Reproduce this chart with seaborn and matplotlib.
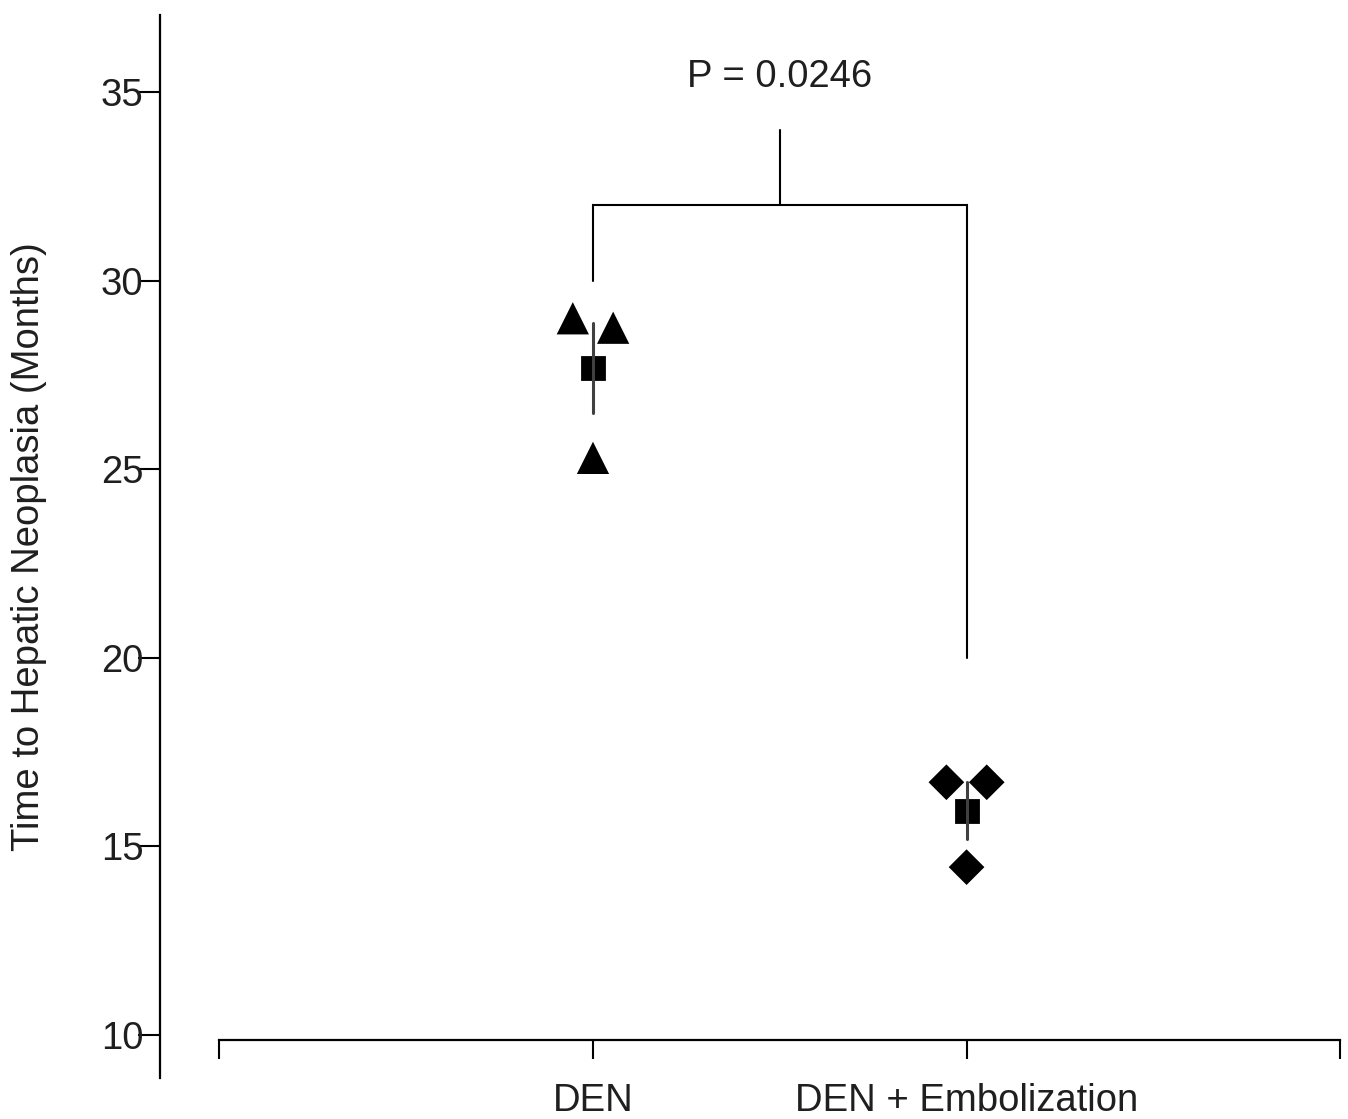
import numpy as np
import pandas as pd
import seaborn as sns
import matplotlib.pyplot as plt

# Values (months)
groups = ['DEN', 'DEN + Embolization']
den_values = [29.0, 28.75, 25.3]
emb_values = [16.7, 16.7, 14.45]
y_ticks = [10, 15, 20, 25, 30, 35]
p_text = 'P = 0.0246'
# bracket: left foot, bar height, right foot, stem top
bracket_left, bracket_bar, bracket_right, bracket_top = 30, 32, 20, 34

# small horizontal spread of the points within a group (layout only)
spread = [-0.054, 0.054, 0.0]

sns.set_style('white')
plt.rcParams['font.family'] = ['Liberation Sans', 'DejaVu Sans']
plt.rcParams['text.color'] = '0.12'
plt.rcParams['xtick.color'] = '0.12'
plt.rcParams['ytick.color'] = '0.12'
plt.rcParams['axes.labelcolor'] = '0.12'

rows = []
for gi, vals in enumerate([den_values, emb_values]):
    for j, v in enumerate(vals):
        rows.append({'group': groups[gi], 'pos': gi, 'xpos': gi + spread[j], 'value': v})
df = pd.DataFrame(rows)

fig = plt.figure(figsize=(13.48, 11.19), dpi=100)
ax = fig.add_axes([160 / 1348, 41 / 1119, 1185 / 1348, 1063 / 1119])

# individual animals
sns.scatterplot(data=df[df['pos'] == 0], x='xpos', y='value', marker='^', s=540,
                color='black', edgecolor='none', ax=ax, zorder=3)
sns.scatterplot(data=df[df['pos'] == 1], x='xpos', y='value', marker='D', s=330,
                color='black', edgecolor='none', ax=ax, zorder=3)

# mean +/- SEM
sns.pointplot(data=df, x='pos', y='value', native_scale=True, errorbar='se',
              markers='s', linestyles='none', color='black', markersize=16,
              err_kws={'linewidth': 2.2, 'color': '0.25'}, ax=ax)

# significance bracket
ax.plot([0, 0, 1, 1], [bracket_left, bracket_bar, bracket_bar, bracket_right],
        color='black', lw=1.5, solid_joinstyle='miter')
ax.plot([0.5, 0.5], [bracket_bar, bracket_top], color='black', lw=1.5)
ax.text(0.5, bracket_top + 1.4, p_text, ha='center', va='center', fontsize=27.5)

ax.set_xlim(-1.159, 2.013)
ax.set_ylim(8.86, 37.04)

for side in ['top', 'right']:
    ax.spines[side].set_visible(False)
ax.spines['left'].set_linewidth(1.6)
ax.spines['bottom'].set_linewidth(1.6)
ax.spines['left'].set_color('black')
ax.spines['bottom'].set_color('black')
ax.spines['bottom'].set_position(('data', 9.87))
ax.spines['bottom'].set_bounds(-1, 2)

ax.set_yticks(y_ticks)
ax.set_yticklabels([str(t) for t in y_ticks])
ax.set_xticks([-1, 0, 1, 2])
ax.set_xticklabels([''] + groups + [''])
ax.tick_params(axis='y', direction='out', length=16, width=1.5, pad=-4,
               labelsize=27.5, left=True, color='black')
ax.tick_params(axis='x', direction='out', length=14, width=1.5, pad=17,
               labelsize=27.5, bottom=True, color='black')
for lab in ax.get_xticklabels() + ax.get_yticklabels():
    lab.set_clip_on(False)

ax.set_xlabel('')
ax.set_ylabel('Time to Hepatic Neoplasia (Months)', fontsize=27.5)
ax.yaxis.set_label_coords(-0.095, 0.5)

fig.savefig('out.png', dpi=100)
